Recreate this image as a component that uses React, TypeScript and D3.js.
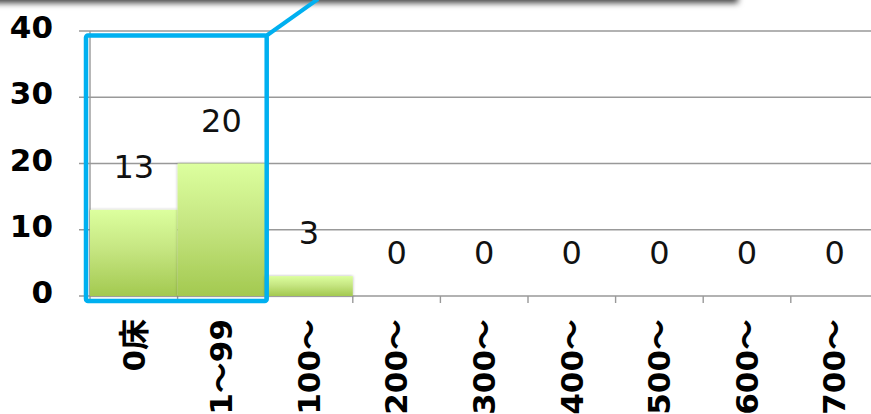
import React from 'react';
import * as d3 from 'd3';

const categories = ["0床", "1～99", "100～", "200～", "300～", "400～", "500～", "600～", "700～"];
const values = [13, 20, 3, 0, 0, 0, 0, 0, 0];
const yTicks = [0, 10, 20, 30, 40];

const W = 871;
const H = 414;
const FONT = '"DejaVu Sans", "Noto Sans CJK JP", sans-serif';

export default function App() {
  const x = d3.scaleBand<string>().domain(categories).range([90, 878.4]).padding(0);
  const y = d3.scaleLinear().domain([0, 40]).range([296, 31]);
  const bw = x.bandwidth();
  const highlightLeft = (x(categories[0]) as number) - 4;
  const highlightRight = (x(categories[1]) as number) + bw + 1.5;

  return (
    <svg width={W} height={H} style={{ position: 'absolute', left: 0, top: 0, background: '#fff' }} fontFamily={FONT}>
      <defs>
        <linearGradient id="barGrad" x1="0" y1="0" x2="0" y2="1">
          <stop offset="0" stopColor="#dcff9e" />
          <stop offset="0.45" stopColor="#c6e682" />
          <stop offset="1" stopColor="#a3c950" />
        </linearGradient>
        <filter id="barShadow" x="-10%" y="-10%" width="120%" height="120%">
          <feDropShadow dx="0" dy="0" stdDeviation="1.5" floodColor="#000" floodOpacity="0.3" />
        </filter>
        <filter id="boxShadow" x="-10%" y="-50%" width="120%" height="200%">
          <feDropShadow dx="3" dy="4" stdDeviation="3.2" floodColor="#000" floodOpacity="0.75" />
        </filter>
      </defs>

      {/* callout box at the top */}
      <rect x={-30} y={-60} width={765} height={59} fill="#f4f4f4" filter="url(#boxShadow)" />

      {/* gridlines */}
      {yTicks.map(t => (
        <line key={'g' + t} x1={79} x2={W} y1={y(t)} y2={y(t)} stroke="#999" strokeWidth={1.6} />
      ))}
      {/* y axis */}
      <line x1={90} x2={90} y1={y(40)} y2={303} stroke="#999" strokeWidth={1.4} />
      {/* x ticks */}
      {categories.map(c => (
        <line key={'t' + c} x1={(x(c) as number) + bw} x2={(x(c) as number) + bw} y1={y(0)} y2={303} stroke="#999" strokeWidth={1.4} />
      ))}

      {/* bars */}
      {categories.map((c, i) => values[i] > 0 ? (
        <rect key={'b' + c} x={x(c) as number} y={y(values[i])} width={bw} height={y(0) - y(values[i])} fill="url(#barGrad)" filter="url(#barShadow)" />
      ) : null)}

      {/* data labels */}
      {categories.map((c, i) => (
        <text key={'l' + c} x={(x(c) as number) + bw / 2} y={y(values[i]) - 32} textAnchor="middle" fontSize={32} fill="#111">
          {values[i]}
        </text>
      ))}

      {/* y labels */}
      {yTicks.map(t => (
        <text key={'y' + t} x={53} y={y(t) + 7} textAnchor="end" fontSize={31} fontWeight="bold" fill="#000">
          {t}
        </text>
      ))}

      {/* x labels */}
      {categories.map(c => (
        <text key={'x' + c} transform={`translate(${(x(c) as number) + bw / 2},319) rotate(-90)`} textAnchor="end" dy="0.35em" fontSize={31} fontWeight="bold" fill="#000">
          {c}
        </text>
      ))}

      {/* highlight rectangle and leader line */}
      <rect x={highlightLeft} y={35.5} width={highlightRight - highlightLeft} height={301 - 35.5} fill="none" stroke="#00b0f0" strokeWidth={4.5} rx={2} />
      <line x1={highlightRight} y1={35.5} x2={318} y2={-1} stroke="#00b0f0" strokeWidth={4} />
    </svg>
  );
}
